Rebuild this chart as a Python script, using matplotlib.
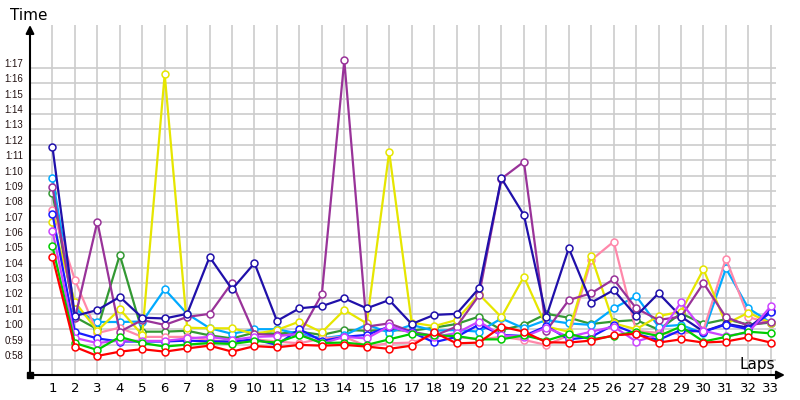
import matplotlib
matplotlib.use("Agg")
import matplotlib.pyplot as plt
import matplotlib.transforms as mtransforms

laps = list(range(1, 34))

# lap times in seconds (0:58 -> 58, 1:17 -> 77)
red = [64.7, 58.85, 58.26, 58.54, 58.7, 58.54, 58.75, 58.93, 58.54, 58.9, 58.82,
       58.98, 58.93, 58.98, 58.87, 58.72, 58.93, 59.8, 59.08, 59.13, 60.17, 59.84,
       59.15, 59.13, 59.26, 59.6, 59.7, 59.13, 59.34, 59.13, 59.2, 59.47, 59.13]
green = [65.4, 59.1, 58.65, 59.5, 59.1, 58.87, 59.0, 59.1, 59.04, 59.24, 59.13,
         59.63, 59.1, 59.13, 58.98, 59.34, 59.7, 59.6, 59.55, 59.34, 59.34, 59.6,
         59.26, 59.7, 59.34, 59.56, 59.85, 59.56, 60.17, 59.2, 59.5, 59.84, 59.73]
violet = [66.4, 59.43, 59.1, 59.26, 59.24, 59.24, 59.4, 59.5, 59.3, 59.5, 59.55,
          59.7, 59.08, 59.5, 59.4, 60.2, 59.75, 59.5, 59.75, 60.5, 59.6, 59.5,
          60.1, 59.5, 59.84, 60.17, 59.2, 59.63, 61.75, 59.9, 59.56, 59.78, 61.5]
blue = [67.5, 59.82, 59.4, 59.2, 59.2, 59.2, 59.26, 59.2, 59.2, 59.34, 58.98,
        60.0, 59.24, 59.5, 59.63, 60.17, 59.8, 59.15, 59.5, 60.3, 59.63, 59.56,
        60.2, 59.34, 59.5, 60.28, 59.7, 59.3, 59.95, 59.84, 60.3, 60.0, 61.1]
navy = [71.86, 60.86, 61.25, 62.1, 60.75, 60.7, 61.0, 64.7, 62.6, 64.3, 60.54,
        61.36, 61.5, 62.0, 61.36, 61.9, 60.34, 60.93, 61.0, 62.66, 69.82, 67.43,
        60.82, 65.27, 61.73, 62.55, 60.86, 62.34, 60.82, 59.85, 60.35, 60.1, 61.2]
purple = [69.26, 60.7, 67.0, 59.84, 60.6, 60.28, 60.8, 61.0, 63.03, 59.7, 59.6,
          59.67, 62.27, 77.5, 60.17, 60.38, 59.84, 59.56, 60.17, 62.2, 69.8, 70.9,
          59.9, 61.9, 62.34, 63.25, 61.36, 60.6, 60.82, 63.0, 60.78, 60.24, 60.5]
yellow = [66.98, 61.77, 59.9, 61.3, 59.63, 76.6, 60.1, 60.06, 60.06, 59.7, 59.95,
          60.5, 59.8, 61.25, 60.38, 71.55, 60.43, 60.2, 60.6, 62.27, 60.78, 63.42,
          60.17, 59.84, 64.77, 60.38, 60.0, 60.86, 61.14, 63.9, 60.34, 61.08, 60.4]
pink = [67.76, 63.2, 59.75, 60.1, 59.5, 59.5, 59.5, 59.3, 59.13, 59.34, 59.2,
        59.08, 59.4, 59.5, 58.9, 59.08, 59.13, 59.6, 59.5, 59.34, 59.5, 59.3,
        58.98, 59.6, 64.5, 65.7, 59.9, 59.75, 59.7, 59.95, 64.6, 60.78, 60.4]
cyan = [69.84, 61.3, 60.47, 60.47, 60.5, 62.6, 61.0, 60.07, 59.7, 60.0, 60.0,
        59.7, 59.4, 59.6, 60.3, 59.78, 60.28, 59.9, 59.95, 59.84, 60.7, 60.06,
        60.6, 60.38, 60.28, 61.36, 62.16, 60.17, 60.28, 59.73, 63.96, 61.36, 60.43]
darkgreen = [68.87, 60.8, 60.0, 64.83, 59.84, 59.84, 59.9, 59.6, 59.4, 59.78, 59.7,
             59.84, 59.63, 59.95, 59.9, 59.95, 59.9, 60.1, 60.34, 60.82, 59.95, 60.28,
             61.0, 60.75, 60.34, 60.5, 60.6, 59.97, 61.03, 60.34, 60.65, 60.3, 60.43]

series = [
    (darkgreen, '#339933'),
    (cyan, '#00aaff'),
    (pink, '#ff88aa'),
    (yellow, '#e6e600'),
    (purple, '#993399'),
    (navy, '#2010aa'),
    (blue, '#1a1aff'),
    (violet, '#cc44ff'),
    (green, '#00cc00'),
    (red, '#ff0000'),
]

ytick_vals = list(range(58, 78))
ytick_labels = ["%d:%02d" % (v // 60, v % 60) for v in ytick_vals]

fig = plt.figure(figsize=(8, 4), dpi=100)
ax = fig.add_axes([0.0375, 0.0625, 0.9325, 0.875])

for vals, col in series:
    ax.plot(laps, vals, color=col, lw=1.6, marker='o', ms=5,
            mfc='white', mec=col, mew=1.1, clip_on=False, zorder=3)

ax.set_xlim(0, 33.23)
ax.set_ylim(57.02, 79.8)
ax.set_xticks(laps)
ax.set_xticklabels([str(l) for l in laps], fontsize=9.5)
ax.set_yticks(ytick_vals)
ax.set_yticklabels(ytick_labels, fontsize=7, color='#221111',
                   family='Liberation Sans')
ax.tick_params(length=0)
ax.tick_params(axis='x', pad=5)
ax.tick_params(axis='y', pad=5)
for lbl in ax.get_yticklabels():
    lbl.set_transform(lbl.get_transform() +
                      mtransforms.ScaledTranslation(0, 5 / 100, fig.dpi_scale_trans))

ax.grid(True, color='#cccccc', lw=1.2, zorder=0)
ax.set_axisbelow(True)
for s in ax.spines.values():
    s.set_visible(False)

# axis arrows
ax.annotate('', xy=(0, 1.0), xytext=(0, 0), xycoords='axes fraction',
            arrowprops=dict(arrowstyle='-|>', color='black', lw=1.5,
                            mutation_scale=12, shrinkA=0, shrinkB=0))
ax.annotate('', xy=(1.012, 0), xytext=(0, 0), xycoords='axes fraction',
            arrowprops=dict(arrowstyle='-|>', color='black', lw=1.5,
                            mutation_scale=12, shrinkA=0, shrinkB=0))
ax.plot([0], [0], marker='s', ms=4, color='black', transform=ax.transAxes,
        clip_on=False)

fig.text(10 / 800, 1 - 15 / 400, 'Time', fontsize=11, va='center', ha='left')
fig.text(775 / 800, 1 - 364 / 400, 'Laps', fontsize=11, va='center', ha='right')

plt.savefig("out.png", dpi=100)
